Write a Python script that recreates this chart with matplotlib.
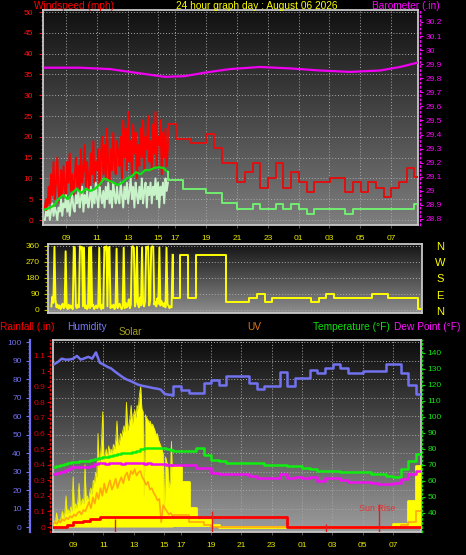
import numpy as np
import matplotlib
matplotlib.use("Agg")
import matplotlib.pyplot as plt
from matplotlib.colors import LinearSegmentedColormap

plt.rcParams['font.family'] = ['Liberation Sans', 'DejaVu Sans']

# ---------------------------------------------------------------- data
# time axis in "chart hours" (the stretch between 15 and 17 is compressed on the chart)
tick_pos = [9, 11, 13, 15, 16.1, 18.1, 20.1, 22.1, 24.1, 26.1, 28.1, 30.1]
tick_labels = ['09', '11', '13', '15', '17', '19', '21', '23', '01', '03', '05', '07']

hires_start_top, hires_end = 7.63, 15.62
hires_start_bot = 7.68
lowres_start = 15.62        # 30-minute records from here on
lowres_step = 0.5

gust_hi = [3, 5, 2, 8, 4, 11, 6, 14, 5, 9, 15, 7,
           4, 12, 6, 13, 8, 5, 14, 9, 16, 7, 11, 6,
           10, 15, 8, 13, 6, 17, 9, 12, 18, 8, 14, 10,
           7, 16, 11, 19, 9, 14, 12, 17, 8, 15, 20, 11,
           18, 10, 22, 13, 9, 17, 12, 21, 14, 11, 19, 16,
           13, 20, 10, 24, 15, 22, 12, 26, 14, 19, 11, 23,
           16, 21, 10, 18, 13, 22, 15, 24, 12, 20, 17, 25, 14, 19,
           12, 23, 16, 26, 13, 20, 18, 24, 11, 21, 15, 22, 13, 18]
speed_hi = [0, 2, 1, 3, 0, 2, 4, 1, 3, 2, 0, 3,
            2, 5, 1, 4, 3, 6, 2, 5, 1, 4, 6, 3,
            2, 6, 4, 7, 3, 5, 8, 2, 6, 4, 7, 3,
            5, 8, 3, 7, 4, 9, 5, 3, 8, 6, 4, 7,
            3, 8, 5, 9, 4, 7, 3, 9, 6, 4, 8, 5,
            4, 9, 6, 3, 8, 5, 9, 4, 7, 10, 5, 8,
            3, 9, 6, 4, 8, 5, 10, 4, 7, 9, 3, 8, 6, 9,
            4, 8, 6, 10, 5, 9, 3, 8, 6, 9, 4, 10, 7, 9]
avg_hi = [2.5, 2.9, 3.5, 5, 6, 5, 6.5, 7.5, 6.5, 7.5, 7, 7.5, 8.5, 10,
          9.5, 9, 8.4, 9, 10, 10.5, 11.5, 11, 12, 12, 12.5, 12.7, 12.5, 11.5]
gust_lo = [23.1, 19.5, 19.5, 18.5, 18.5, 20.7, 17.3, 13.7, 13.7, 9.1, 11.5,
           13.7, 7.7, 10.1, 13.7, 7.7, 11.5, 9.1, 6.7, 9.1, 9.1, 10.1, 10.1,
           6.7, 9.1, 6.7, 9.1, 7.7, 5.5, 7.7, 9.1, 12.5, 10.3]
avg_lo = [9.6, 9.6, 7.4, 7.4, 7.4, 6.5, 6.5, 4.1, 4.1, 2.6, 2.6, 3.8, 2.6,
          2.6, 3.8, 2.6, 3.8, 2.6, 1.5, 2.6, 2.6, 2.6, 2.6, 1.5, 2.6, 2.6,
          2.6, 2.6, 2.6, 2.6, 2.6, 2.6, 3.8]
baro_t = [7.63, 9.90, 11.85, 13.15, 14.45, 15.42, 16.72, 18.02, 19.64,
          21.59, 23.54, 25.49, 27.44, 29.38, 30.68, 31.79]
baro_v = [29.875, 29.875, 29.865, 29.845, 29.825, 29.81, 29.815, 29.84,
          29.865, 29.88, 29.87, 29.855, 29.845, 29.855, 29.88, 29.91]

dir_hi = [20, 75, 40, 355, 60, 15, 30, 10, 25, 5,
          20, 35, 10, 15, 330, 20, 5, 30, 10, 25,
          15, 5, 355, 350, 20, 10, 30, 15, 358, 345,
          355, 20, 350, 10, 25, 5, 15, 352, 10, 355,
          20, 30, 5, 15, 25, 10, 20, 350, 15, 5,
          30, 10, 355, 340, 358, 20, 350, 355, 10, 25,
          15, 30, 5, 20, 345, 10, 25, 35, 15, 5,
          20, 350, 10, 40, 15, 25, 60, 10, 30, 355,
          358, 350, 20, 45, 355, 30, 15, 70, 25, 352,
          35, 20, 50, 355, 345, 358, 25, 60, 350, 358,
          355, 30, 45, 20, 65, 35, 352, 25, 50, 30,
          20, 40, 15, 350, 30, 25, 10, 20, 15, 310]
dir_lo = [67.5, 309, 67.5, 309, 309, 309, 309, 45, 45, 45, 67.5, 90, 45,
          67.5, 67.5, 67.5, 67.5, 67.5, 45, 67.5, 90, 67.5, 67.5, 67.5, 67.5,
          67.5, 90, 90, 67.5, 67.5, 67.5, 67.5, 5]

# bottom panel, 15-minute values before 15.6, 30-minute values after
hum_hi = [88, 89.2, 91, 90.5, 90.5, 91, 92.5, 90.5, 91.2, 92, 91, 94.4,
          88.8, 87.8, 86.6, 85.7, 84, 82.5, 81, 79.8, 79, 78, 77, 76.4,
          76, 75.6, 75.1, 74.8, 74.3, 72, 71.5, 71.4]
temp_hi = [69, 69.3, 69.8, 70.3, 71, 72, 72, 72.3, 72.5, 72.6, 73, 74,
           74.5, 75, 75, 75.5, 76, 77, 77.5, 77.5, 77.5, 78, 78.5, 80,
           80.6, 80.6, 80.6, 80.6, 80.6, 80.6, 80, 79.5]
dew_hi = [64.4, 65, 65.6, 66.5, 67.5, 68.8, 68.5, 68.8, 69, 68.8, 69.5, 70.5,
          71, 71, 70.6, 71, 71.2, 71, 70.8, 71, 71.2, 71, 71.3, 71,
          70.8, 71, 70.6, 70.8, 70.5, 70.3, 70, 70]
hum_lo = [76, 74, 72.5, 72.5, 78, 79.5, 77, 81.6, 81.6, 81.6, 78, 74.6, 76,
          76, 84, 76, 80.5, 80.5, 85, 83, 86, 88, 86, 83, 83, 84.5, 84.5,
          84.5, 88, 88, 83, 77, 72]
temp_lo = [78.8, 78.8, 78.8, 80.6, 76.5, 73, 72.5, 71, 71, 71, 71, 71.5, 70,
           70, 70, 69.4, 69.4, 68, 67.5, 66, 66, 66, 65.6, 65.6, 65.6, 65.6,
           64.4, 64.4, 63, 62.5, 67.5, 72.5, 77]
dew_lo = [70, 70, 70, 68, 68, 65, 64.4, 64.4, 64.4, 64.4, 63, 62, 62, 62,
          64.4, 61.9, 62.5, 61.9, 62.5, 60, 61.9, 61.9, 60.6, 59.4, 59.4,
          59.4, 58.8, 58, 58, 58.8, 61, 64.4, 66]
solar_hi = [10, 40, 20, 90, 30, 50, 25,
            70, 100, 60, 90, 200, 80,
            110, 90, 130, 100, 320, 110,
            150, 120, 170, 280, 140, 160,
            180, 150, 400, 170, 200, 160, 220,
            250, 210, 300, 280, 350, 320,
            600, 380, 450, 550, 740, 430,
            460, 500, 440, 520, 480, 500,
            470, 530, 500, 560, 680, 520,
            540, 600, 580, 620, 650, 610,
            800, 620, 650, 700, 780, 660,
            720, 750, 700, 780, 760, 850,
            900, 760, 740, 200, 720, 700,
            690, 670, 680, 650, 660, 640,
            620, 590, 600, 560, 540, 520,
            500, 470, 100, 450, 420,
            380, 250, 300, 550, 200]
solar_lo = [385, 290, 120, 45, 45, 10, 0, 0, 0, 0, 0, 0, 0, 0, 0, 0, 0, 0,
            0, 0, 0, 0, 0, 0, 0, 0, 0, 0, 0, 20, 20, 170, 390]
uv_hi = [0.2, 0.3, 0.2, 0.4, 0.3, 0.5, 0.4, 0.6, 0.5, 0.7,
         0.6, 0.8, 0.7, 0.9, 1.0, 0.8, 1.1, 1.0,
         1.3, 1.6, 1.2, 1.9, 1.5, 2.2,
         1.8, 2.5, 2.0, 2.8, 2.2, 2.6, 3.0, 2.4,
         2.7, 3.1, 2.5, 2.9, 3.2, 2.8,
         3.3, 3.5, 3.0, 3.6, 3.4, 3.7, 3.3, 3.5, 3.6, 3.2,
         3.0, 2.7, 2.9, 2.4, 2.5, 2.2,
         2.0, 1.7, 1.8, 0.3, 1.4, 1.2,
         1.0, 0.8, 0.9, 0.7]
uv_lo = [0.75, 0.75, 0.3, 0.3, 0.1, 0, 0, 0, 0, 0, 0, 0, 0, 0, 0, 0, 0, 0,
         0, 0, 0, 0, 0, 0, 0, 0, 0, 0, 0, 0, 0.1, 0.3, 1.0]
rain_t = [7.68, 8.60, 9.00, 9.66, 10.12, 10.78, 23.10]
rain_v = [0.0, 0.01, 0.03, 0.04, 0.05, 0.065, 0.0]
event_t = [11.77, 18.16, 25.68, 29.17]
event_top = [0.05, 0.10, 0.02, 0.15]

# ---------------------------------------------------------------- figure
W, H = 466, 555
fig = plt.figure(figsize=(W / 100, H / 100), dpi=100, facecolor='black')


def px_axes(x0, y0, x1, y1):
    return fig.add_axes([x0 / W, 1 - y1 / H, (x1 - x0) / W, (y1 - y0) / H])


def ftext(x, y, s, color, size=7.3, ha='left'):
    fig.text(x / W, 1 - y / H, s, color=color, fontsize=size, ha=ha, va='baseline')


def gradient(ax, top, bot):
    cmap = LinearSegmentedColormap.from_list('g', [top, bot])
    x0, x1 = ax.get_xlim()
    y0, y1 = ax.get_ylim()
    ax.imshow(np.linspace(0, 1, 256).reshape(-1, 1), aspect='auto', cmap=cmap,
              extent=[x0, x1, y0, y1], origin='upper', zorder=0,
              interpolation='bilinear')
    ax.set_xlim(x0, x1)
    ax.set_ylim(y0, y1)


FRAME = '#c8c8c8'
GRID = '#a8a8a8'
YEL = '#e6e600'
DOT = (0, (1, 2))


def frame(ax):
    for s in ax.spines.values():
        s.set_color(FRAME)
        s.set_linewidth(1.3)


def hide_spines(ax):
    for s in ax.spines.values():
        s.set_visible(False)


xl_top = (7.51, 31.85)
xl_bot = (7.68, 31.95)

# ---------------------------------------------------------------- top panel
ax_t = px_axes(43, 10, 418, 225)
ax_t.set_facecolor('black')
ax_t.set_xlim(xl_top)
ax_t.set_ylim(-1.2, 50.5)
gradient(ax_t, '#101010', '#7e7e7e')
frame(ax_t)
ax_t.set_yticks(np.arange(0, 51, 5))
ax_t.set_yticks(np.arange(0, 51, 1), minor=True)
ax_t.tick_params(axis='y', which='major', colors='#ff1010', labelsize=6,
                 length=3, width=0.8, pad=4)
ax_t.tick_params(axis='y', which='minor', colors='#ff1010', length=1.6, width=0.8)
ax_t.set_xticks(tick_pos)
ax_t.set_xticklabels(tick_labels)
ax_t.tick_params(axis='x', colors='#505050', labelcolor=YEL, labelsize=6,
                 length=2, pad=5)
ax_t.grid(True, color=GRID, linestyle=DOT, linewidth=0.7)

t_hi = np.linspace(hires_start_top, hires_end, len(gust_hi))
t_avg = np.linspace(hires_start_top, hires_end, len(avg_hi))
t_lo = lowres_start + lowres_step * np.arange(len(gust_lo))


def step_series(t_hi_last, v_hi_last, vals, end):
    tt = np.concatenate([[t_hi_last], t_lo, [end]])
    vv = np.concatenate([[v_hi_last], vals, [vals[-1]]])
    return tt, vv


ax_t.plot(t_hi, gust_hi, color='#ff0000', lw=1.4, zorder=3)
tt, vv = step_series(t_hi[-1], gust_hi[-1], gust_lo, xl_top[1])
ax_t.plot(tt, vv, color='#e01010', lw=1.4, drawstyle='steps-post', zorder=3)
ax_t.plot(t_hi, speed_hi, color='#c8f2c8', lw=1.4, zorder=4)
ax_t.plot(t_avg, avg_hi, color='#10e010', lw=1.6, zorder=5)
tt, vv = step_series(t_avg[-1], avg_hi[-1], avg_lo, xl_top[1])
ax_t.plot(tt, vv, color='#70ee70', lw=1.4, drawstyle='steps-post', zorder=5)

ax_p = ax_t.twinx()
hide_spines(ax_p)
ax_p.set_ylim(28.757, 30.285)
ax_p.spines['right'].set_visible(True)
ax_p.spines['right'].set_position(('axes', 1.006))
ax_p.spines['right'].set_color('#ff00ff')
ax_p.spines['right'].set_linestyle(DOT)
ax_p.spines['right'].set_linewidth(1.0)
baro_ticks = np.round(np.arange(28.8, 30.21, 0.1), 1)
ax_p.set_yticks(baro_ticks)
ax_p.set_yticklabels([f'{v:g}' for v in baro_ticks])
ax_p.tick_params(axis='y', colors='#ff00ff', labelsize=6, length=2.5,
                 width=0.8, pad=1.5)
ax_p.plot(baro_t, baro_v, color='#f000f0', lw=1.6)

ftext(34, 9, 'Windspeed (mph)', '#ff0000')
ftext(257, 9, '24 hour graph day : August 06 2026', '#ffff00', ha='center')
ftext(372, 9, 'Barometer (.in)', '#ff00ff')

# ---------------------------------------------------------------- direction panel
ax_d = px_axes(48, 244, 422, 313)
ax_d.set_facecolor('black')
ax_d.set_xlim(xl_top)
ax_d.set_ylim(-17, 371)
gradient(ax_d, '#141414', '#8e8e8e')
frame(ax_d)
ax_d.set_yticks([0, 90, 180, 270, 360])
ax_d.set_yticks(np.arange(0, 361, 22.5), minor=True)
ax_d.tick_params(axis='y', which='major', colors='#c8c800', labelcolor=YEL,
                 labelsize=6, length=3, width=0.8, pad=3)
ax_d.tick_params(axis='y', which='minor', colors='#a0a000', length=2, width=0.8)
ax_d.set_xticks([])
ax_d.grid(True, axis='y', color=GRID, linestyle=DOT, linewidth=0.7)
td_hi = np.linspace(hires_start_top + 0.1, hires_end, len(dir_hi))
ax_d.plot(td_hi, dir_hi, color='#ffff00', lw=1.4)
tt, vv = step_series(td_hi[-1], dir_hi[-1], dir_lo, xl_top[1])
ax_d.plot(tt, vv, color='#ffff00', lw=1.4, drawstyle='steps-post')

compass = ['N', 'W', 'S', 'E', 'N']
for i, c in enumerate(compass):
    ftext(440, 250 + i * 16.2, c, '#ffff00', size=8, ha='center')

# ---------------------------------------------------------------- bottom panel
ax_b = px_axes(53, 340, 421, 532)
ax_b.set_facecolor('black')
ax_b.set_xlim(xl_bot)
ax_b.set_ylim(-2.7, 101.1)
gradient(ax_b, '#0c0c0c', '#9c9c9c')
frame(ax_b)
ax_b.set_yticks(np.arange(0, 101, 10))
ax_b.tick_params(axis='y', length=0, labelleft=False)
ax_b.set_xticks(tick_pos)
ax_b.set_xticklabels(tick_labels)
ax_b.tick_params(axis='x', colors='#505050', labelcolor=YEL, labelsize=6,
                 length=2, pad=5)
ax_b.grid(True, color=GRID, linestyle=DOT, linewidth=0.7)

tb_hi = np.linspace(hires_start_bot, hires_end - 0.05, len(solar_hi))
tb_q = np.linspace(hires_start_bot + 0.07, hires_end - 0.08, len(hum_hi))
tb_uv = np.linspace(hires_start_bot, hires_end - 0.05, len(uv_hi))

# solar
ax_s = ax_b.twinx()
hide_spines(ax_s)
ax_s.yaxis.set_visible(False)
ax_s.set_ylim(-32, 1200)
ax_s.fill_between(tb_hi, 0, solar_hi, color='#ffff00', lw=0)
ax_s.plot(tb_hi, solar_hi, color='#f0f000', lw=0.6)
tt, vv = step_series(tb_hi[-1], solar_hi[-1], solar_lo, xl_bot[1])
ax_s.fill_between(tt, 0, vv, step='post', color='#ffff00', lw=0)
ax_s.plot(tt, vv, color='#ffff00', lw=2, drawstyle='steps-post')

# UV
ax_u = ax_b.twinx()
hide_spines(ax_u)
ax_u.yaxis.set_visible(False)
ax_u.set_ylim(-0.32, 12)
ax_u.plot(tb_uv, uv_hi, color='#ff9a10', lw=1.2, alpha=0.85)
tt, vv = step_series(tb_uv[-1], uv_hi[-1], uv_lo, xl_bot[1])
ax_u.plot(tt, vv, color='#ff9a10', lw=1.2, alpha=0.85, drawstyle='steps-post')

# rain
ax_r = ax_b.twinx()
hide_spines(ax_r)
ax_r.set_ylim(-0.032, 1.2)
ax_r.yaxis.tick_left()
ax_r.spines['left'].set_visible(True)
ax_r.spines['left'].set_position(('axes', -0.008))
ax_r.spines['left'].set_color('#e00000')
ax_r.spines['left'].set_linestyle(DOT)
ax_r.spines['left'].set_linewidth(1.0)
rain_ticks = np.round(np.arange(0, 1.11, 0.1), 1)
ax_r.set_yticks(rain_ticks)
ax_r.set_yticklabels([f'{v:g}' for v in rain_ticks])
ax_r.tick_params(axis='y', colors='#e00000', labelsize=6, length=2,
                 width=0.8, pad=1.5)
ax_r.plot(np.append(rain_t, xl_bot[1]), np.append(rain_v, rain_v[-1]),
          color='#ff0000', lw=2, drawstyle='steps-post')
ax_r.vlines(event_t, -0.032, event_top, color='#e02020', lw=1)
ax_r.text(event_t[-1] - 0.1, 0.105, 'Sun Rise', color='#e03434', fontsize=6.4,
          ha='center', va='baseline')

# temperature / dew point
ax_T = ax_b.twinx()
hide_spines(ax_T)
ax_T.set_ylim(28.1, 148.1)
ax_T.spines['right'].set_visible(True)
ax_T.spines['right'].set_position(('axes', 1.003))
ax_T.spines['right'].set_color('#10d010')
ax_T.spines['right'].set_linestyle(DOT)
ax_T.spines['right'].set_linewidth(1.0)
ax_T.set_yticks(np.arange(40, 141, 10))
ax_T.tick_params(axis='y', colors='#10e010', labelsize=6, length=2.5,
                 width=0.8, pad=1.5)
ax_T.plot(tb_q, temp_hi, color='#10ee10', lw=1.8, drawstyle='steps-mid')
tt, vv = step_series(tb_q[-1], temp_hi[-1], temp_lo, xl_bot[1])
ax_T.plot(tt, vv, color='#10ee10', lw=1.8, drawstyle='steps-post')
ax_T.plot(tb_q, dew_hi, color='#f010f0', lw=1.8, drawstyle='steps-mid')
tt, vv = step_series(tb_q[-1], dew_hi[-1], dew_lo, xl_bot[1])
ax_T.plot(tt, vv, color='#f010f0', lw=1.8, drawstyle='steps-post')

# humidity (drawn last, on top)
ax_h = ax_b.twinx()
hide_spines(ax_h)
ax_h.set_ylim(-2.7, 101.1)
ax_h.yaxis.tick_left()
ax_h.spines['left'].set_visible(True)
ax_h.spines['left'].set_position(('axes', -0.0625))
ax_h.spines['left'].set_color('#7070f0')
ax_h.spines['left'].set_linewidth(1.6)
ax_h.set_yticks(np.arange(0, 101, 10))
ax_h.set_yticks(np.arange(0, 101, 2), minor=True)
ax_h.tick_params(axis='y', which='major', colors='#7070f0', labelsize=6,
                 length=3, width=0.8, pad=3)
ax_h.tick_params(axis='y', which='minor', colors='#7070f0', length=1.5, width=0.6)
ax_h.plot(tb_q, hum_hi, color='#7272f0', lw=1.8)
tt, vv = step_series(tb_q[-1], hum_hi[-1], hum_lo, xl_bot[1])
ax_h.plot(tt, vv, color='#7272f0', lw=1.8, drawstyle='steps-post')

ftext(0, 330.5, 'Rainfall (.in)', '#ff0000')
ftext(67, 330.5, 'Humidity', '#7878ff')
ftext(119, 335, 'Solar', '#a8a020')
ftext(247, 330.5, 'UV', '#e07818')
ftext(313, 330.5, 'Temperature (°F)', '#10e010')
ftext(394, 330.5, 'Dew Point (°F)', '#ff10ff')

fig.savefig('out.png', dpi=100, facecolor='black')
